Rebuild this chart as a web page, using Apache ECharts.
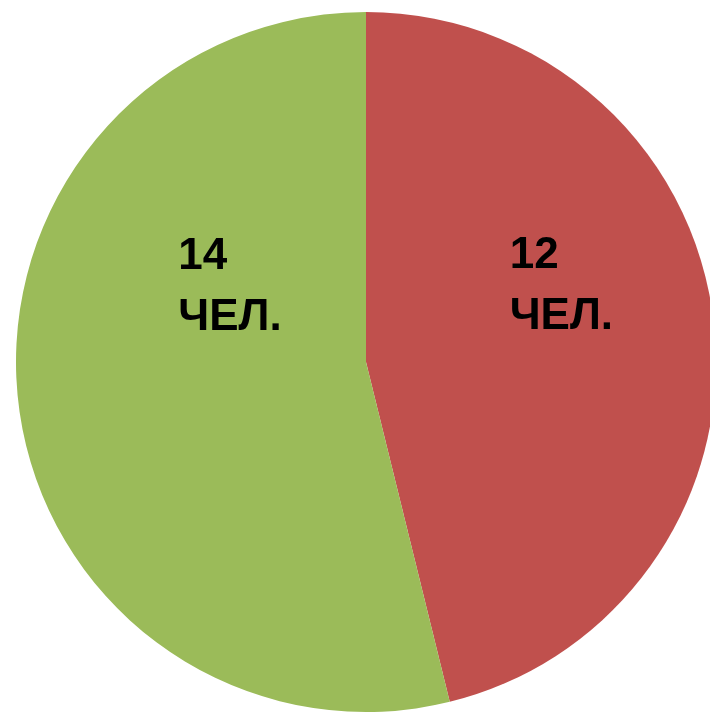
<!DOCTYPE html>
<html>
<head>
<meta charset="utf-8">
<style>
  html, body { margin: 0; padding: 0; background: #ffffff; }
  #chart { width: 710px; height: 714px; }
</style>
<script src="https://cdn.jsdelivr.net/npm/echarts@6/dist/echarts.min.js"></script>
</head>
<body>
<div id="chart"></div>
<script>
const categories = ['Группа A', 'Группа B'];
const values = [12, 14];
const labelTexts = ['12\nЧЕЛ.', '14\nЧЕЛ.'];
const colors = ['#C0504D', '#9BBB59'];

const labelShift = [[-33, -54], [-11, -96]];

const chart = echarts.init(document.getElementById('chart'), null, { renderer: 'canvas' });
chart.setOption({
  animation: false,
  backgroundColor: '#ffffff',
  series: [{
    type: 'pie',
    center: [366, 362],
    radius: [0, 350],
    startAngle: 90,
    clockwise: true,
    avoidLabelOverlap: false,
    silent: true,
    data: categories.map((c, i) => ({
      name: c,
      value: values[i],
      itemStyle: { color: colors[i] },
      label: { formatter: labelTexts[i] }
    })),
    itemStyle: { borderWidth: 0 },
    label: {
      show: true,
      position: 'inside',
      align: 'left',
      verticalAlign: 'middle',
      color: '#000000',
      fontFamily: 'Liberation Sans',
      fontWeight: 'bold',
      fontSize: 44,
      lineHeight: 61
    },
    labelLine: { show: false },
    labelLayout: function (params) {
      const s = labelShift[params.dataIndex];
      return { dx: s[0], dy: s[1], align: 'left', verticalAlign: 'middle' };
    }
  }]
});
</script>
</body>
</html>
